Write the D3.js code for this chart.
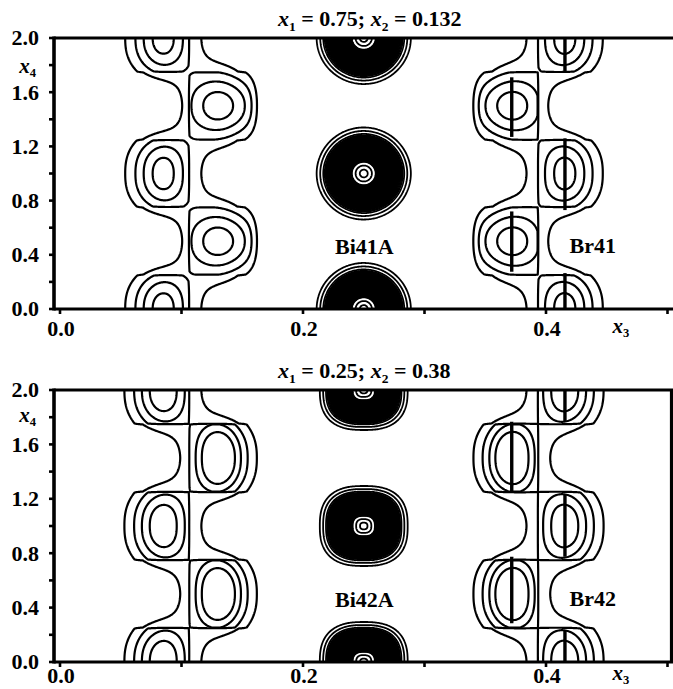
<!DOCTYPE html>
<html><head><meta charset="utf-8">
<script src="https://cdn.jsdelivr.net/npm/d3@7"></script>
<style>
body{margin:0;background:#fff}
svg{display:block}
text{font-family:"Liberation Serif","Times New Roman",serif;font-weight:bold;fill:#000}
</style>
</head><body>
<svg id="chart" width="673" height="689"></svg>
<script>
// ---------------- data ----------------
const titleX1 = ["0.75", "0.25"];
const titleX2 = ["0.132", "0.38"];
const x3TickValues = [0, 0.1, 0.2, 0.3, 0.4, 0.5];
const x3LabelValues = [0.0, 0.2, 0.4];
const x4TickValues = [0, 0.2, 0.4, 0.6, 0.8, 1.0, 1.2, 1.4, 1.6, 1.8, 2.0];
const x4LabelValues = [0.0, 0.4, 0.8, 1.2, 1.6, 2.0];

const siteNames = [["Bi41A", "Br41"], ["Bi42A", "Br42"]];
const siteLabelX3 = [0.2505, 0.4385];
const siteLabelX4 = [0.405, 0.41];

// modulated (crenel) sites of the two zig-zag groups
const groupSiteX3 = [0.0848, 0.1305, 0.3718, 0.4156];
const groupSitePhase = [0, 0.5, 0.5, 0];
const groupSiteSide = [-1, 1, -1, 1];
const groupSplitX3 = [0.1065, 0.1065, 0.3935, 0.3935];
const crenelHalfWidth = 0.25;

// smooth part of each site, per panel
const bandSigmaX3 = [[0.031, 0.0295, 0.0295, 0.031], [0.031, 0.031, 0.031, 0.031]];
const bandSigmaX4 = [[0.30, 0.30, 0.30, 0.30], [0.30, 0.30, 0.30, 0.30]];
const bandPowerX4 = [[2.5, 2.5, 2.5, 2.5], [2.5, 2.5, 2.5, 2.5]];
// crenel-restricted peak of each site, per panel
const peakHeight = [[0.45, 0.45, 0.45, 0.45], [0.55, 0.8, 0.8, 0.55]];
const peakSigmaX3 = [[0.0195, 0.0296, 0.0296, 0.0195], [0.0206, 0.0185, 0.0185, 0.0206]];
const peakSigmaX4 = [[0.27, 0.20, 0.20, 0.27], [0.34, 0.30, 0.30, 0.34]];
const peakPowerX3 = [[2, 8, 8, 2], [2, 2, 2, 2]];
const peakPowerX4 = [[2, 2, 2, 2], [2, 2, 2, 2]];
const groupLevels = [0.4, 0.7, 1.0, 1.3];

// Bi site
const biX3 = 0.25;
const biSigmaX3 = [0.0207, 0.0193];
const biSigmaX4 = [0.1814, 0.157];
const biNormPower = [2, 2.6];
const biLevels = [0.03, 0.05, 0.075].concat(d3.range(0.09, 0.8, 0.012), [0.9, 0.975]);

// Br modulation paths (x3, x4 start, x4 end) per panel
const brPathX3 = [0.3718, 0.3718, 0.4156, 0.4156, 0.4156];
const brPathStart = [[0.275, 1.27, 0.0, 0.73, 1.75], [0.285, 1.243, 0.0, 0.774, 1.77]];
const brPathEnd = [[0.72, 1.71, 0.265, 1.26, 2.0], [0.774, 1.767, 0.235, 1.23, 2.0]];

// ---------------- layout ----------------
const svg = d3.select("#chart");
const panelTop = [38, 390], panelBottom = [309, 662];
const frameLeft = 54;
const frameRight = [673, 671.5];
const x = d3.scaleLinear().domain([0, 0.5]).range([60, 667.5]);

function groupField(p, x3, x4) {
  let v = 0;
  for (let i = 0; i < groupSiteX3.length; i++) {
    const dx = x3 - groupSiteX3[i];
    const ex = (dx / bandSigmaX3[p][i]) ** 2;
    const px = Math.pow(Math.abs(dx) / peakSigmaX3[p][i], peakPowerX3[p][i]);
    const inSide = groupSiteSide[i] * (x3 - groupSplitX3[i]) > 0;
    for (let k = -1; k <= 3; k++) {
      const dy = x4 - (k + groupSitePhase[i]);
      v += Math.exp(-ex - Math.pow(Math.abs(dy) / bandSigmaX4[p][i], bandPowerX4[p][i]));
      if (inSide && Math.abs(dy) < crenelHalfWidth) {
        const py = Math.pow(Math.abs(dy) / peakSigmaX4[p][i], peakPowerX4[p][i]);
        v += peakHeight[p][i] * Math.exp(-px - py);
      }
    }
  }
  return v;
}
function biField(p, x3, x4) {
  let v = 0;
  const q = biNormPower[p];
  for (let k = -1; k <= 3; k++) {
    const u = Math.abs((x3 - biX3) / biSigmaX3[p]);
    const w = Math.abs((x4 - k) / biSigmaX4[p]);
    const r = Math.pow(Math.pow(u, q) + Math.pow(w, q), 1 / q);
    v += Math.exp(-r * r);
  }
  return v;
}

function contourLayer(g, fn, xa, xb, ya, yb, thresholds, sw) {
  const nx = xb - xa, ny = yb - ya;
  const values = new Float64Array(nx * ny);
  for (let j = 0; j < ny; j++) for (let i = 0; i < nx; i++) {
    values[j * nx + i] = fn(x.invert(xa + i + 0.5), j + ya + 0.5);
  }
  const cs = d3.contours().size([nx, ny]).thresholds(thresholds)(values);
  const path = d3.geoPath(d3.geoIdentity().translate([xa, ya]));
  g.selectAll(null).data(cs).join("path")
    .attr("d", path).attr("fill", "none").attr("stroke", "#000")
    .attr("stroke-width", sw).attr("stroke-linejoin", "round");
}

function subLabel(sel, x0, y0, anchor, letter, sub, size) {
  const t = sel.append("text").attr("x", x0).attr("y", y0).attr("text-anchor", anchor)
    .attr("font-size", size);
  t.append("tspan").attr("font-style", "italic").text(letter);
  t.append("tspan").attr("dy", size * 0.2).attr("font-size", size * 0.6).text(sub);
  return t;
}

[0, 1].forEach(p => {
  const y = d3.scaleLinear().domain([0, 2]).range([panelBottom[p], panelTop[p]]);
  const g = svg.append("g");
  const clipId = "clip" + p;
  svg.append("clipPath").attr("id", clipId).append("rect")
    .attr("x", frameLeft).attr("y", panelTop[p])
    .attr("width", frameRight[p] - frameLeft).attr("height", panelBottom[p] - panelTop[p]);
  const plot = g.append("g").attr("clip-path", `url(#${clipId})`);

  const ya = panelTop[p] - 20, yb = panelBottom[p] + 20;
  contourLayer(plot, (x3, py) => groupField(p, x3, y.invert(py)), 44, 676, ya, yb, groupLevels, 2.2);
  contourLayer(plot, (x3, py) => biField(p, x3, y.invert(py)), 300, 430, ya, yb, biLevels, 1.8);

  // Br modulation paths
  plot.selectAll(null).data(brPathX3).join("line")
    .attr("x1", d => x(d)).attr("x2", d => x(d))
    .attr("y1", (d, i) => y(brPathStart[p][i])).attr("y2", (d, i) => y(brPathEnd[p][i]))
    .attr("stroke", "#000").attr("stroke-width", 3.4);

  // frame
  const fr = g.append("g").attr("stroke", "#000").attr("stroke-width", 3.2).attr("fill", "none");
  fr.append("line").attr("x1", frameLeft).attr("x2", frameRight[p] + 2).attr("y1", panelTop[p]).attr("y2", panelTop[p]);
  fr.append("line").attr("x1", frameLeft).attr("x2", frameRight[p] + 2).attr("y1", panelBottom[p]).attr("y2", panelBottom[p]);
  fr.append("line").attr("x1", frameLeft).attr("x2", frameLeft).attr("y1", panelTop[p] - 1.6).attr("y2", panelBottom[p] + 1.6).attr("stroke-width", 3.6);
  if (p === 1) fr.append("line").attr("x1", frameRight[p]).attr("x2", frameRight[p]).attr("y1", panelTop[p]).attr("y2", panelBottom[p]);

  // ticks
  g.selectAll(null).data(x4TickValues).join("line")
    .attr("x1", frameLeft - 5).attr("x2", frameLeft).attr("y1", d => y(d)).attr("y2", d => y(d))
    .attr("stroke", "#000").attr("stroke-width", 2.6);
  g.selectAll(null).data(x3TickValues).join("line")
    .attr("x1", d => x(d)).attr("x2", d => x(d)).attr("y1", panelBottom[p]).attr("y2", panelBottom[p] + 5)
    .attr("stroke", "#000").attr("stroke-width", 2.6);

  // tick labels
  g.selectAll(null).data(x4LabelValues).join("text")
    .attr("x", 39).attr("y", d => y(d)).attr("dy", "0.34em").attr("text-anchor", "end")
    .attr("font-size", 22).text(d => d.toFixed(1));
  g.selectAll(null).data(x3LabelValues).join("text")
    .attr("x", d => x(d) + 1).attr("y", panelBottom[p] + (p === 0 ? 27 : 21)).attr("text-anchor", "middle")
    .attr("font-size", 22).text(d => d.toFixed(1));

  // axis names
  subLabel(g, 36, panelTop[p] + (p === 0 ? 35 : 32), "end", "x", "4", 21);
  subLabel(g, 621, panelBottom[p] + (p === 0 ? 24 : 18), "middle", "x", "3", 21);

  // title
  const t = g.append("text").attr("x", 278).attr("y", panelTop[p] - 12).attr("font-size", 22);
  t.append("tspan").attr("font-style", "italic").text("x");
  t.append("tspan").attr("dy", 4.5).attr("font-size", 13.5).text("1");
  t.append("tspan").attr("dy", -4.5).text(" = " + titleX1[p] + "; ");
  t.append("tspan").attr("font-style", "italic").text("x");
  t.append("tspan").attr("dy", 4.5).attr("font-size", 13.5).text("2");
  t.append("tspan").attr("dy", -4.5).text(" = " + titleX2[p]);

  // site labels
  g.selectAll(null).data(siteNames[p]).join("text")
    .attr("x", (d, i) => x(siteLabelX3[i])).attr("y", (d, i) => y(siteLabelX4[i]))
    .attr("text-anchor", "middle").attr("font-size", 22).text(d => d);
});
</script>
</body></html>
